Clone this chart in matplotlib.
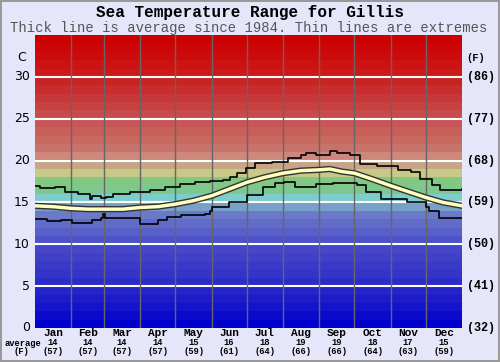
import numpy as np
import matplotlib.pyplot as plt
import matplotlib.patheffects as pe

# data (day of year, deg C)
months = ['Jan', 'Feb', 'Mar', 'Apr', 'May', 'Jun', 'Jul', 'Aug', 'Sep', 'Oct', 'Nov', 'Dec']
month_avg_c = [14, 14, 14, 14, 15, 16, 18, 19, 19, 18, 17, 15]
month_avg_f = [57, 57, 57, 57, 59, 61, 64, 66, 66, 64, 63, 59]
month_days = [31, 28, 31, 30, 31, 30, 31, 31, 30, 31, 30, 31]

avg_day = [0, 15, 31, 45, 59, 75, 90, 105, 120, 135, 151, 166, 181, 196, 212, 227,
           243, 252, 262, 273, 288, 304, 319, 334, 349, 365]
avg_temp = [14.6, 14.5, 14.3, 14.2, 14.2, 14.2, 14.4, 14.5, 14.8, 15.2, 15.8, 16.6, 17.4,
            18.0, 18.5, 18.8, 18.9, 19.0, 18.7, 18.5, 17.8, 17.0, 16.3, 15.6, 15.0, 14.6]

max_day = [0, 4, 17, 26, 37, 47, 49, 56, 61, 67, 81, 98, 111, 124, 137, 150, 161, 167,
           173, 180, 188, 203, 216, 227, 232, 240, 252, 258, 269, 278, 292, 310, 321,
           329, 339, 346, 365]
max_temp = [17.0, 16.7, 16.8, 16.3, 16.0, 15.4, 15.8, 15.5, 15.7, 16.0, 16.2, 16.5, 16.9,
            17.2, 17.4, 17.6, 17.7, 18.1, 18.5, 19.1, 19.7, 19.8, 20.3, 20.7, 20.9, 20.7,
            21.2, 20.9, 20.7, 19.6, 19.3, 18.9, 18.6, 17.8, 17.1, 16.5, 16.6]

min_day = [0, 10, 22, 32, 49, 56, 58, 60, 90, 105, 113, 125, 145, 150, 151, 166, 181,
           195, 205, 213, 222, 240, 255, 275, 283, 296, 318, 334, 337, 345, 355, 365]
min_temp = [13.0, 12.8, 12.9, 12.5, 12.9, 13.1, 13.6, 13.1, 12.4, 12.9, 13.3, 13.5, 13.6,
            14.0, 14.5, 15.1, 15.9, 16.9, 17.3, 17.4, 16.9, 17.2, 17.3, 17.1, 16.3, 15.4,
            15.1, 14.5, 14.0, 13.2, 13.1, 13.2]

# colour of each 1 degree band, 0..34 C
band_rgb = [(0, 0, 204), (10, 10, 204), (20, 20, 204), (28, 28, 202), (36, 36, 202),
            (44, 44, 200), (52, 52, 200), (58, 58, 200), (64, 64, 200), (70, 70, 200),
            (78, 82, 200), (88, 96, 200), (96, 108, 200), (106, 122, 200), (120, 160, 200),
            (125, 205, 205), (125, 200, 140), (130, 200, 130), (200, 200, 135), (200, 165, 135),
            (205, 135, 125), (200, 115, 105), (200, 105, 95), (200, 95, 90), (200, 85, 85),
            (200, 75, 75), (200, 65, 65), (200, 55, 55), (200, 45, 45), (200, 35, 35),
            (204, 25, 25), (204, 18, 18), (204, 12, 12), (204, 6, 6), (204, 0, 0)]

fig = plt.figure(figsize=(5, 3.62), dpi=100, facecolor='#e6e6fa')
fig.patch.set_edgecolor('#999999')
fig.patch.set_linewidth(1.5)
ax = fig.add_axes([0.07, 0.094, 0.854, 0.809])
ax.set_xlim(0, 365)
ax.set_ylim(0, 35)

for i, c in enumerate(band_rgb):
    ax.axhspan(i, i + 1, color=np.array(c) / 255, lw=0, zorder=0)

for t in range(5, 35, 5):
    ax.axhline(t, color='white', lw=1.5, zorder=1)

edges = np.cumsum([0] + month_days)
for e in edges[1:-1]:
    ax.axvline(e, color='#666666', lw=1, zorder=1)

ax.step(max_day, max_temp, where='post', color='black', lw=1.2, zorder=3)
ax.step(min_day, min_temp, where='post', color='black', lw=1.2, zorder=3)
ax.plot(avg_day, avg_temp, color='#ffffc0', lw=2.5, zorder=4,
        path_effects=[pe.Stroke(linewidth=4.5, foreground='#333333'), pe.Normal()])

ax.set_xticks([])
ax.set_yticks([])
for s in ax.spines.values():
    s.set_visible(False)

mono = 'Liberation Mono'
# y axis labels
for t in range(0, 35, 5):
    ax.text(-4.5, t, str(t), ha='right', va='center', fontsize=9, color='black',
            family='DejaVu Sans')
    f = round(t * 9 / 5 + 32)
    ax.text(369, t, '(%d)' % f, ha='left', va='center', fontsize=8.5,
            fontweight='bold', family=mono)
ax.text(-8, 32.3, 'C', ha='right', va='center', fontsize=9, family='DejaVu Sans')
ax.text(369, 32.3, '(F)', ha='left', va='center', fontsize=7.5, fontweight='bold',
        family=mono)

# month labels
centers = (edges[:-1] + edges[1:]) / 2
for m, c, ac, af in zip(months, centers, month_avg_c, month_avg_f):
    ax.text(c, -0.55, m, ha='center', va='center', fontsize=8, fontweight='bold',
            family=mono, transform=ax.transData)
    ax.text(c, -1.75, str(ac), ha='center', va='center', fontsize=6.3,
            family=mono, fontweight='bold')
    ax.text(c, -2.85, '(%d)' % af, ha='center', va='center', fontsize=6.3,
            family=mono, fontweight='bold')
fig.text(0.045, 1 - 343 / 362, 'average', ha='center', va='center', fontsize=6.3,
         family=mono, fontweight='bold')
fig.text(0.042, 1 - 352 / 362, '(F)', ha='center', va='center', fontsize=6.3,
         family=mono, fontweight='bold')

fig.text(0.5, 1 - 13 / 362, 'Sea Temperature Range for Gillis', ha='center', va='center',
         fontsize=11.5, fontweight='bold', family=mono)
fig.text(0.497, 1 - 28 / 362, 'Thick line is average since 1984. Thin lines are extremes',
         ha='center', va='center', fontsize=10, color='#555555', family=mono)

fig.savefig('out.png', dpi=100, facecolor=fig.get_facecolor(), edgecolor=fig.patch.get_edgecolor())
